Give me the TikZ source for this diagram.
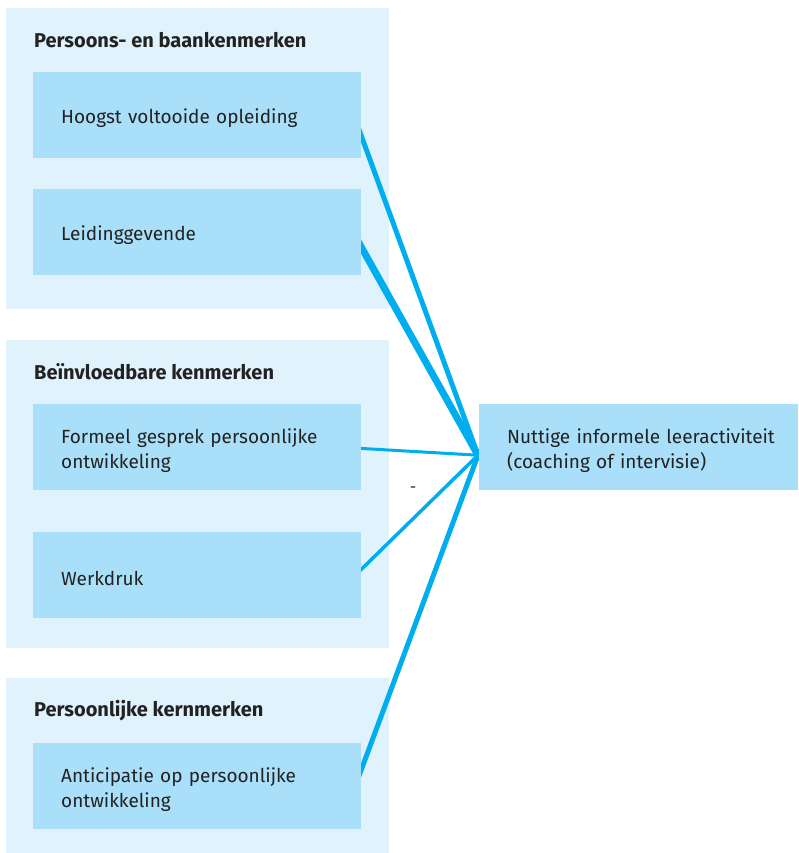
\documentclass[tikz,border=0pt]{standalone}
\usepackage{fontspec}
\setmainfont{Fira Sans}
\usetikzlibrary{calc}
\definecolor{grpc}{HTML}{E0F2FB}
\definecolor{boxc}{HTML}{A9DFF9}
\definecolor{lnc}{HTML}{00AEEF}
\definecolor{txtc}{HTML}{222222}
\pgfdeclarelayer{bgl}
\pgfdeclarelayer{midl}
\pgfsetlayers{bgl,midl,main}
\tikzset{
  grpbox/.style={fill=grpc, draw=none, anchor=north west, inner sep=0pt},
  itembox/.style={fill=boxc, draw=none, anchor=north west, minimum width=328pt, minimum height=86pt,
    inner xsep=28pt, inner ysep=0pt, text width=272pt, align=left, text=txtc,
    font=\fontsize{19}{25}\selectfont, execute at begin node={\rule{0pt}{21pt}}},
  grptitle/.style={anchor=west, inner sep=0pt, text=txtc, font=\fontsize{20}{22}\selectfont\bfseries},
  conn/.style={draw=lnc, line cap=butt},
}
\begin{document}
\begin{tikzpicture}[x=1pt,y=-1pt]
\useasboundingbox (0,0) rectangle (798,853);
\begin{pgfonlayer}{bgl}
\node[grpbox, minimum width=383pt, minimum height=301pt] (g1) at (6,8) {};
\node[grpbox, minimum width=383pt, minimum height=308pt] (g2) at (6,340) {};
\node[grpbox, minimum width=383pt, minimum height=175pt] (g3) at (6,678) {};
\end{pgfonlayer}
\node[grptitle] (t1) at (34,40) {Persoons- en baankenmerken};
\node[grptitle] (t2) at (34,372) {Beïnvloedbare kenmerken};
\node[grptitle] (t3) at (34,711) {Persoonlijke kernmerken};
\node[itembox] (b1) at (33,72) {Hoogst voltooide opleiding};
\node[itembox] (b2) at (33,189) {Leidinggevende};
\node[itembox] (b3) at (33,404) {Formeel gesprek persoonlijke\\ontwikkeling};
\node[itembox] (b4) at (33,532) {Werkdruk};
\node[itembox] (b5) at (33,743) {Anticipatie op persoonlijke\\ontwikkeling};
\node[itembox, minimum width=319pt, text width=263pt] (tg) at (479,404) {\mbox{Nuttige informele leeractiviteit}\\\mbox{(coaching of intervisie)}};
\coordinate (hub) at ($(tg.west)+(-1,8)$);
\node[inner sep=0pt, text=txtc, font=\fontsize{16}{16}\selectfont] (minus) at (413,490) {-};
\begin{pgfonlayer}{midl}
\draw[conn, line width=5pt] ($(b1.east)+(-4,10)$) -- (hub);
\draw[conn, line width=7pt] ($(b2.east)+(-4,8)$) -- (hub);
\draw[conn, line width=3pt] ($(b3.east)+(-4,1)$) -- (hub);
\draw[conn, line width=3.5pt] ($(b4.east)+(-4,-2)$) -- (hub);
\draw[conn, line width=5pt] ($(b5.east)+(-4,-6)$) -- (hub);
\end{pgfonlayer}
\end{tikzpicture}
\end{document}
